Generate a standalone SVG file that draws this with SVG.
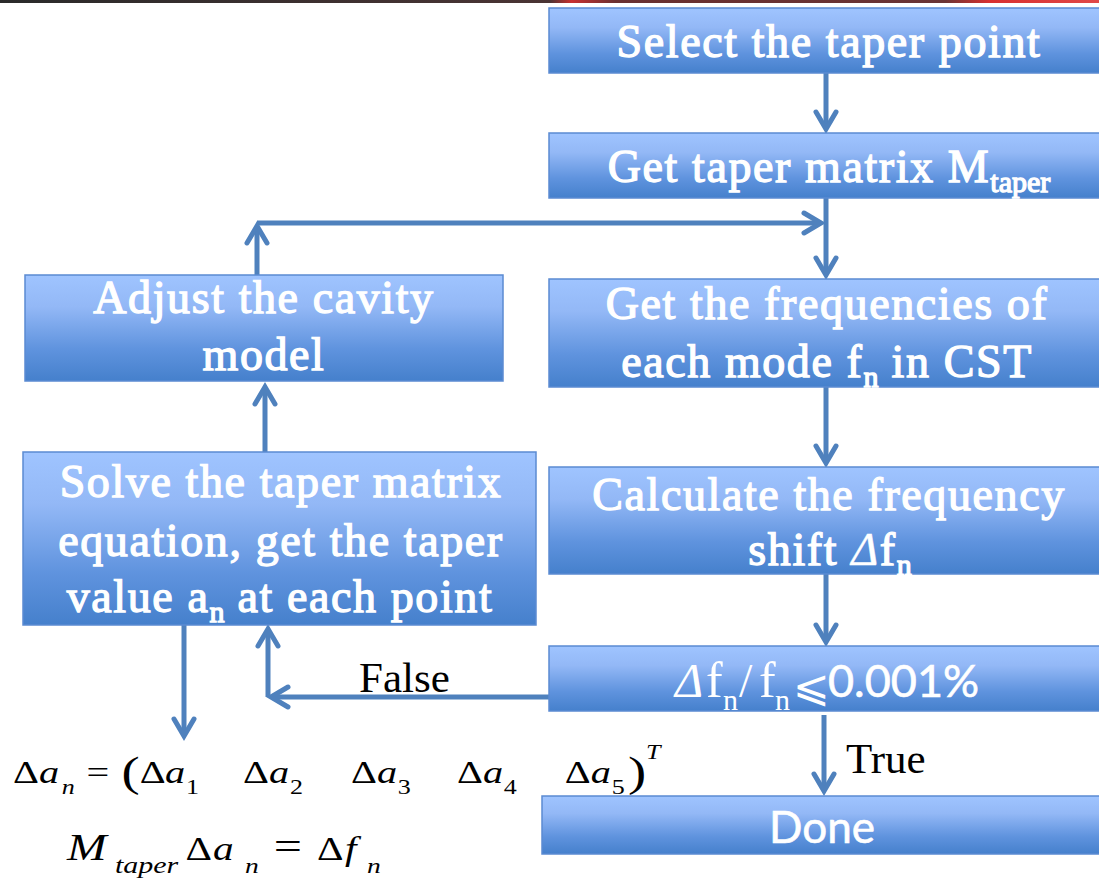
<svg xmlns="http://www.w3.org/2000/svg" width="1099" height="882" viewBox="0 0 1099 882">
  <defs>
    <linearGradient id="boxFill" x1="0" y1="0" x2="0" y2="1">
      <stop offset="0" stop-color="#9fc4ff"/>
      <stop offset="0.3" stop-color="#93b8f6"/>
      <stop offset="0.7" stop-color="#5f93de"/>
      <stop offset="1" stop-color="#4580cc"/>
    </linearGradient>
    <linearGradient id="topRule" x1="0" y1="0" x2="1" y2="0">
      <stop offset="0" stop-color="#2a2a2a"/>
      <stop offset="0.5" stop-color="#4a3434"/>
      <stop offset="0.52" stop-color="#c83030"/>
      <stop offset="0.56" stop-color="#6a3030"/>
      <stop offset="0.86" stop-color="#6a3434"/>
      <stop offset="0.9" stop-color="#d83030"/>
      <stop offset="1" stop-color="#e04848"/>
    </linearGradient>
    <marker id="head" markerUnits="userSpaceOnUse" markerWidth="30" markerHeight="30" refX="0" refY="0" orient="auto" style="overflow:visible">
      <path d="M-17,-10 L0,0 L-17,10" fill="none" stroke="#4f81bd" stroke-width="5" stroke-linecap="round"/>
    </marker>
  </defs>
  <style>
    .box { fill: url(#boxFill); stroke: #5b8bd2; stroke-width: 1.5; }
    .t { font-family: "Liberation Serif", serif; font-size: 46px; letter-spacing: 1.6px; fill: #ffffff; stroke: #ffffff; stroke-width: 1.3; text-anchor: middle; }
    .sub { font-size: 30px; letter-spacing: 0; }
    .w { fill: #ffffff; }
    .ser { font-family: "Liberation Serif", serif; }
    .s { font-family: Lato, "Liberation Sans", sans-serif; fill: #ffffff; stroke: #ffffff; stroke-width: 0.6; }
    .lbl { font-family: "Liberation Serif", serif; font-size: 43px; fill: #000000; }
    .m { font-family: "Liberation Serif", serif; fill: #000000; }
    .i { font-style: italic; }
    .wire { fill: none; stroke: #4f81bd; stroke-width: 5; marker-end: url(#head); }
  </style>

  <rect x="0" y="0" width="1099" height="3" fill="url(#topRule)"/>

  <!-- connectors -->
  <g id="connectors">
    <path class="wire" d="M826,73 V129"/>
    <path class="wire" d="M826,198 V275"/>
    <path class="wire" d="M257,223 H821"/>
    <path class="wire" d="M257,275 V226"/>
    <path class="wire" d="M265,452 V387"/>
    <path class="wire" d="M826,387 V463"/>
    <path class="wire" d="M826,574 V642"/>
    <path class="wire" d="M549,697 H271"/>
    <path class="wire" d="M268,697 V629"/>
    <path class="wire" d="M184,620 V736"/>
    <path class="wire" d="M824,715 V791"/>
  </g>

  <g id="select">
    <rect class="box" x="549" y="8" width="560" height="65"/>
    <text class="t" x="829" y="57">Select the taper point</text>
  </g>

  <g id="matrix">
    <rect class="box" x="549" y="133" width="560" height="65"/>
    <text class="t" x="829" y="182">Get taper matrix M<tspan class="sub" dy="10">taper</tspan></text>
  </g>

  <g id="frequencies">
    <rect class="box" x="549" y="279" width="560" height="108"/>
    <text class="t" x="827" y="319">Get the frequencies of</text>
    <text class="t" x="827" y="377">each mode f<tspan class="sub" dy="10">n</tspan><tspan dy="-10"> in CST</tspan></text>
  </g>

  <g id="shift">
    <rect class="box" x="549" y="467" width="560" height="107"/>
    <text class="t" x="829" y="510">Calculate the frequency</text>
    <text class="t" x="830" y="565">shift <tspan font-style="italic" stroke-width="0.4">Δ</tspan>f<tspan class="sub" dy="10">n</tspan></text>
  </g>

  <g id="check">
    <rect class="box" x="549" y="646" width="560" height="65"/>
    <text class="w ser i" x="675" y="697" font-size="48">Δ</text>
    <text class="w ser" x="706" y="697" font-size="50">f</text>
    <text class="w ser" x="723" y="710" font-size="30">n</text>
    <text class="w ser" x="739" y="697" font-size="48">/</text>
    <text class="w ser" x="759" y="697" font-size="50">f</text>
    <text class="w ser" x="775" y="710" font-size="30">n</text>
    <text class="w" x="793" y="701" font-family="'DejaVu Sans', sans-serif" font-size="44">⩽</text>
    <text class="s" x="828" y="697" font-size="45">0.001%</text>
  </g>

  <g id="done">
    <rect class="box" x="542" y="796" width="567" height="58"/>
    <text class="s" x="822" y="843" font-size="44" text-anchor="middle">Done</text>
  </g>

  <g id="adjust">
    <rect class="box" x="25" y="275" width="478" height="106"/>
    <text class="t" x="264" y="313">Adjust the cavity</text>
    <text class="t" x="264" y="370">model</text>
  </g>

  <g id="solve">
    <rect class="box" x="23" y="452" width="513" height="173"/>
    <text class="t" x="281" y="497">Solve the taper matrix</text>
    <text class="t" x="281" y="556">equation, get the taper</text>
    <text class="t" x="280" y="612">value a<tspan class="sub" dy="10">n</tspan><tspan dy="-10"> at each point</tspan></text>
  </g>

  <g id="labels">
    <text class="lbl" x="359" y="692">False</text>
    <text class="lbl" x="846" y="773">True</text>
  </g>

  <!-- vector of taper increments (glyphs stretched horizontally) -->
  <g id="formula-vector" class="m" transform="scale(1.3,1)">
    <g font-size="31">
      <text x="10" y="783">Δ</text>
      <text x="30" y="783" class="i">a</text>
      <text x="66.5" y="783">=</text>
      <text x="107.5" y="783">Δ</text>
      <text x="127" y="783" class="i">a</text>
      <text x="187" y="783">Δ</text>
      <text x="207" y="783" class="i">a</text>
      <text x="270" y="783">Δ</text>
      <text x="290" y="783" class="i">a</text>
      <text x="351.5" y="783">Δ</text>
      <text x="371.5" y="783" class="i">a</text>
      <text x="434.5" y="783">Δ</text>
      <text x="454.5" y="783" class="i">a</text>
    </g>
    <g font-size="20">
      <text x="47.5" y="794" class="i">n</text>
      <text x="143" y="794">1</text>
      <text x="223" y="794">2</text>
      <text x="306" y="794">3</text>
      <text x="387.5" y="794">4</text>
      <text x="470.5" y="794">5</text>
      <text x="497" y="759" class="i">T</text>
    </g>
    <g font-size="42">
      <text x="93.5" y="786">(</text>
      <text x="483" y="786">)</text>
    </g>
  </g>

  <!-- taper matrix equation -->
  <g id="formula-matrix" class="m" transform="scale(1.25,1)">
    <text x="53.6" y="860" font-size="38" class="i">M</text>
    <text x="92" y="873" font-size="24" class="i">taper</text>
    <text x="148.5" y="860" font-size="33">Δ</text>
    <text x="170.4" y="860" font-size="33" class="i">a</text>
    <text x="196" y="873" font-size="22" class="i">n</text>
    <text x="219" y="860" font-size="40">=</text>
    <text x="253.6" y="860" font-size="33">Δ</text>
    <text x="276" y="860" font-size="33" class="i">f</text>
    <text x="293.6" y="873" font-size="22" class="i">n</text>
  </g>
</svg>
